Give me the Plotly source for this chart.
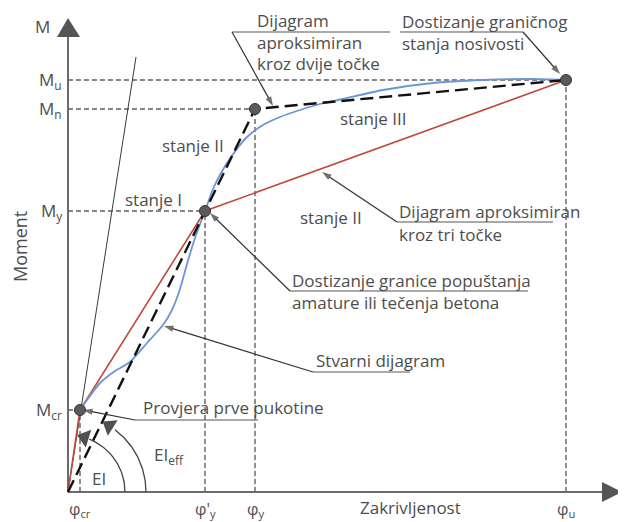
import numpy as np
import plotly.graph_objects as go

# ---- values (data units: curvature to the right, moment upward) ----
phi_cr, phi_yp, phi_y, phi_u = 12, 137, 187, 498
M_cr, M_y, M_n, M_u = 82, 281, 383, 412

phi_ticks = [phi_cr, phi_yp, phi_y, phi_u]
phi_labels = ["φ<sub>cr</sub>", "φ'<sub>y</sub>", "φ<sub>y</sub>", "φ<sub>u</sub>"]
M_ticks = [M_cr, M_y, M_n, M_u]
M_labels = ["M<sub>cr</sub>", "M<sub>y</sub>", "M<sub>n</sub>", "M<sub>u</sub>"]

# approximation through three points (red)
tri_phi = [0, phi_cr, phi_yp, phi_u]
tri_M = [0, M_cr, M_y, M_u]
# approximation through two points (black dashed)
bi_phi = [0, phi_y, phi_u]
bi_M = [0, M_n, M_u]
# actual diagram (blue)
act_phi = [12, 19, 32, 47, 62, 79, 95, 104, 112, 119, 127, 137, 145, 153, 163, 179,
           195, 212, 232, 252, 275, 315, 365, 415, 465, 498]
act_M = [82, 92, 109, 121, 130, 149, 167, 182, 203, 228, 254, 281, 303, 319, 335, 355,
         367, 375, 382, 388, 393, 402, 409, 412, 413, 412]
# EI tangent (thin line)
EI_phi = [0, 68]
EI_M = [0, 435]

FONT = "Open Sans"
FS = 17
TXT = "#4d4d4d"
AX = "#6b6b6b"

fig = go.Figure()

def line(xs, ys, color, width, dash=None, shape="linear", smoothing=None):
    ln = dict(color=color, width=width, shape=shape)
    if dash:
        ln["dash"] = dash
    if smoothing is not None:
        ln["smoothing"] = smoothing
    fig.add_trace(go.Scatter(x=xs, y=ys, mode="lines", line=ln, hoverinfo="skip",
                             showlegend=False))

# grey dashed reference lines
ref_dash = "5px,3px"
for p, m in zip(phi_ticks, M_ticks):
    line([0, p], [m, m], "#5f5f5f", 1.4, ref_dash)
    line([p, p], [0, m], "#5f5f5f", 1.4, ref_dash)

# axes
line([0, 0], [0, 456], AX, 2)
line([0, 535], [0, 0], AX, 2)

# EI thin line
line(EI_phi, EI_M, "#3a3a3a", 1)

# red trilinear
line(tri_phi, tri_M, "#c0483a", 1.6)
# blue actual
line(act_phi, act_M, "#6b96d6", 1.8, shape="spline", smoothing=0.6)
# black dashed bilinear
line(bi_phi, bi_M, "#111111", 2.4, "13px,6px")

# arcs for EI and EI_eff
th1 = np.radians(np.linspace(0, 68, 60))
line(57 * np.cos(th1), 57 * np.sin(th1), "#444444", 1.3)
th2 = np.radians(np.linspace(0, 53, 60))
line(78 * np.cos(th2), 78 * np.sin(th2), "#444444", 1.3)
ah = [(57, 73), (78, 58)]
fig.add_trace(go.Scatter(
    x=[r * np.cos(np.radians(t)) for r, t in ah],
    y=[r * np.sin(np.radians(t)) for r, t in ah],
    mode="markers", hoverinfo="skip", showlegend=False,
    marker=dict(symbol="triangle-up", size=16, color="#505050",
                angle=[-t for r, t in ah], line=dict(width=0))))

# leader underlines
underlines = [
    ([164, 322], [460, 460]),
    ([332, 455], [460, 460]),
    ([329, 485], [270, 270]),
    ([222, 460], [201, 201]),
    ([245, 342], [120, 120]),
    ([67, 190], [72, 72]),
]
for xs, ys in underlines:
    line(xs, ys, "#555555", 1.2)

# leader diagonals ending in arrow heads (tail -> head)
leaders = [
    (164, 460, 205, 386),
    (455, 460, 492, 418),
    (329, 270, 254, 320),
    (222, 201, 142, 279),
    (245, 120, 96, 166),
    (67, 72, 15, 82),
]
for x0, y0, x1, y1 in leaders:
    fig.add_trace(go.Scatter(
        x=[x0, x1], y=[y0, y1], mode="lines+markers", hoverinfo="skip", showlegend=False,
        line=dict(color="#333333", width=1.2),
        marker=dict(symbol=["circle", "arrow"], size=[0, 10], color="#333333",
                    angleref="previous", line=dict(width=0))))

# points
fig.add_trace(go.Scatter(
    x=[phi_cr, phi_yp, phi_y, phi_u], y=[M_cr, M_y, M_n, M_u], mode="markers",
    hoverinfo="skip", showlegend=False,
    marker=dict(size=11, color="#5a5a5a", line=dict(color="#333333", width=1))))

ann = []

def text(x, y, s, xanchor="left", size=FS, angle=0):
    ann.append(dict(x=x, y=y, xref="x", yref="y", text=s, showarrow=False,
                    xanchor=xanchor, yanchor="middle", textangle=angle,
                    font=dict(family=FONT, size=size, color=TXT)))

# texts
text(187, 472, "Dijagram")
text(187, 450, "aproksimiran")
text(187, 429, "kroz dvije točke")
text(332, 471, "Dostizanje graničnog")
text(332, 449, "stanja nosivosti")
text(329, 281, "Dijagram aproksimiran")
text(329, 258, "kroz tri točke")
text(222, 212, "Dostizanje granice popuštanja")
text(222, 190, "amature ili tečenja betona")
text(246, 132, "Stvarni dijagram")
text(73, 85, "Provjera prve pukotine")
text(92, 347, "stanje II")
text(55, 293, "stanje I")
text(230, 275, "stanje II")
text(270, 374, "stanje III")
text(22, 14, "EI")
text(84, 37, "EI<sub>eff</sub>")
text(342, -15, "Zakrivljenost", xanchor="center")
text(-26, 466, "M", xanchor="center")
text(-48, 245, "Moment", xanchor="center", angle=-90, size=18)
text(548, -14, "φ")
for p, s in zip(phi_ticks, phi_labels):
    text(p, -17, s, xanchor="center", size=16)
for m, s in zip(M_ticks, M_labels):
    text(-4, m, s, xanchor="right")

# the page body has an 8px margin, so the figure is 8px smaller and its ranges start 8 units later
fig.update_layout(
    width=618, height=514, margin=dict(l=0, r=0, t=0, b=0),
    paper_bgcolor="white", plot_bgcolor="white",
    xaxis=dict(range=[-60, 558], visible=False, fixedrange=True),
    yaxis=dict(range=[-30, 484], visible=False, fixedrange=True),
    annotations=ann,
    shapes=[
        dict(type="path", xref="x", yref="y", path="M -11 455 L 12 455 L 0 474 Z",
             fillcolor="#555555", line=dict(width=0)),
        dict(type="path", xref="x", yref="y", path="M 534 -10 L 534 10 L 554 0 Z",
             fillcolor="#555555", line=dict(width=0)),
    ],
)

fig.write_html("out.html")
